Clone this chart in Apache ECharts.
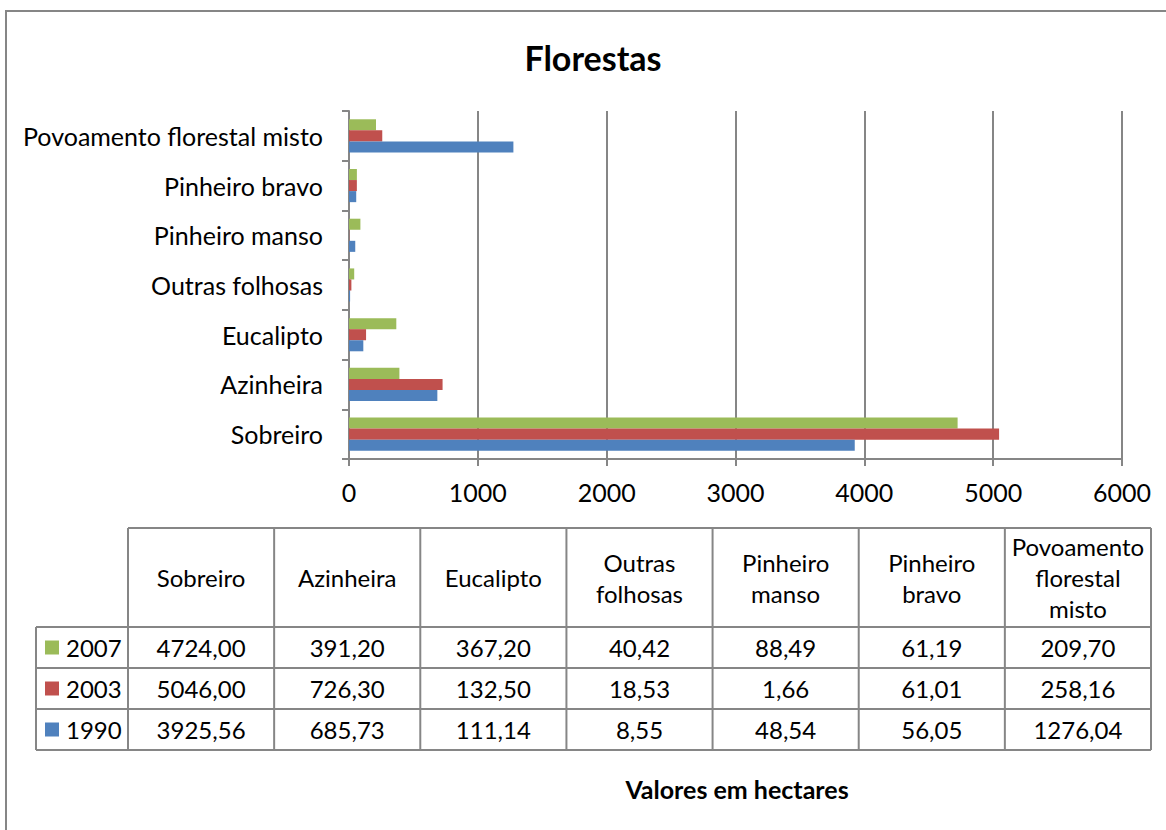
<!DOCTYPE html>
<html><head><meta charset="utf-8">
<script src="https://cdn.jsdelivr.net/npm/echarts@6/dist/echarts.min.js"></script>
<style>html,body{margin:0;padding:0;background:#fff}#c{width:1166px;height:830px}</style>
</head><body><div id="c"></div>
<script>
// ---- data ----
const categories = ['Sobreiro', 'Azinheira', 'Eucalipto', 'Outras folhosas', 'Pinheiro manso', 'Pinheiro bravo', 'Povoamento florestal misto'];
const tableHeaders = ['Sobreiro', 'Azinheira', 'Eucalipto', 'Outras\nfolhosas', 'Pinheiro\nmanso', 'Pinheiro\nbravo', 'Povoamento\nflorestal\nmisto'];
const years = ['2007', '2003', '1990'];
const v2007 = [4724.00, 391.20, 367.20, 40.42, 88.49, 61.19, 209.70];
const v2003 = [5046.00, 726.30, 132.50, 18.53, 1.66, 61.01, 258.16];
const v1990 = [3925.56, 685.73, 111.14, 8.55, 48.54, 56.05, 1276.04];
const xMin = 0, xMax = 6000, xStep = 1000;
const titleText = 'Florestas';
const footerText = 'Valores em hectares';

const seriesValues = { '2007': v2007, '2003': v2003, '1990': v1990 };
const colors = { '2007': '#9BBB59', '2003': '#C0504D', '1990': '#4F81BD' };

const FONT = 'Lato, "Liberation Sans", sans-serif';
const GRAY = '#868686';
const FS = 25;
const TFS = 24;

const chart = echarts.init(document.getElementById('c'), null, { renderer: 'svg' });

function fmt(v) { return v.toFixed(2).replace('.', ','); }

// table geometry
const T = { left: 36, legendRight: 128, right: 1151, top: 528, headBottom: 627, rowH: 41 };
const colW = (T.right - T.legendRight) / categories.length;
const tableBottom = T.headBottom + T.rowH * years.length;

const g = [];
g.push({ type: 'rect', silent: true, shape: { x: 6, y: 11, width: 1400, height: 1000 }, style: { fill: 'none', stroke: GRAY, lineWidth: 2 } });
g.push({ type: 'text', x: 593, y: 57, style: { text: titleText, fontSize: 34, fontWeight: 'bold', fontFamily: FONT, fill: '#000', align: 'center', verticalAlign: 'middle' } });
g.push({ type: 'text', x: 737, y: 789, style: { text: footerText, fontSize: 25, fontWeight: 'bold', fontFamily: FONT, fill: '#000', align: 'center', verticalAlign: 'middle' } });

function line(x1, y1, x2, y2) {
  g.push({ type: 'line', silent: true, shape: { x1, y1, x2, y2 }, style: { stroke: GRAY, lineWidth: 2 } });
}
// table grid lines
line(T.legendRight, T.top, T.right, T.top);
for (let r = 0; r <= years.length; r++) {
  const y = T.headBottom + r * T.rowH;
  line(T.left, y, T.right, y);
}
line(T.left, T.headBottom, T.left, tableBottom);
for (let c = 0; c <= categories.length; c++) {
  const x = T.legendRight + c * colW;
  line(x, T.top, x, tableBottom);
}
// header cells
tableHeaders.forEach((h, c) => {
  g.push({ type: 'text', x: T.legendRight + (c + 0.5) * colW, y: (T.top + T.headBottom) / 2,
    style: { text: h, fontSize: TFS, fontFamily: FONT, fill: '#000', align: 'center', verticalAlign: 'middle', lineHeight: 31 } });
});
// rows
years.forEach((yr, r) => {
  const cy = T.headBottom + (r + 0.5) * T.rowH;
  g.push({ type: 'rect', silent: true, shape: { x: 45, y: cy - 7, width: 14, height: 14 }, style: { fill: colors[yr] } });
  g.push({ type: 'text', x: 66, y: cy, style: { text: yr, fontSize: TFS, fontFamily: FONT, fill: '#000', align: 'left', verticalAlign: 'middle' } });
  seriesValues[yr].forEach((v, c) => {
    g.push({ type: 'text', x: T.legendRight + (c + 0.5) * colW, y: cy,
      style: { text: fmt(v), fontSize: TFS, fontFamily: FONT, fill: '#000', align: 'center', verticalAlign: 'middle' } });
  });
});

const option = {
  backgroundColor: '#ffffff',
  animation: false,
  grid: { left: 349, right: 44, top: 111, bottom: 371, containLabel: false },
  xAxis: {
    type: 'value', min: xMin, max: xMax, interval: xStep,
    axisLine: { show: true, lineStyle: { color: GRAY, width: 2 } },
    axisTick: { show: true, length: 7, lineStyle: { color: GRAY, width: 2 } },
    splitLine: { show: true, lineStyle: { color: GRAY, width: 2 } },
    axisLabel: { color: '#000', fontSize: FS, fontFamily: FONT, margin: 20, formatter: v => String(v) }
  },
  yAxis: {
    type: 'category', data: categories,
    axisLine: { show: true, lineStyle: { color: GRAY, width: 2 } },
    axisTick: { show: true, length: 7, lineStyle: { color: GRAY, width: 2 } },
    axisLabel: { color: '#000', fontSize: FS, fontFamily: FONT, margin: 26 }
  },
  series: years.map(yr => ({
    name: yr, type: 'bar', data: seriesValues[yr],
    barGap: '0%', barCategoryGap: '33.3%',
    itemStyle: { color: colors[yr] }
  })),
  graphic: g
};
chart.setOption(option);
</script></body></html>
